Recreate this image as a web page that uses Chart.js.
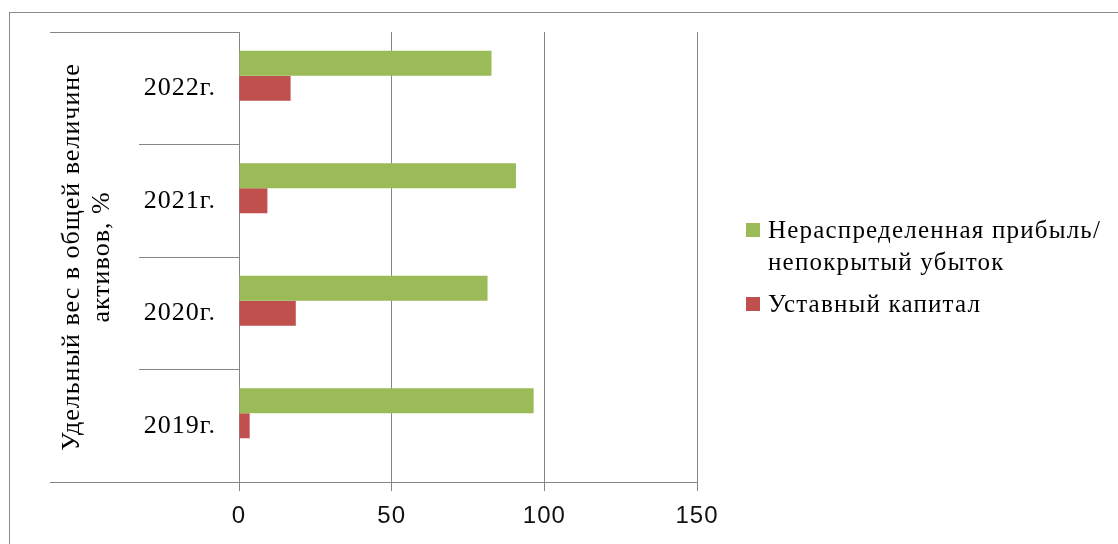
<!DOCTYPE html>
<html lang="ru">
<head>
<meta charset="utf-8">
<title>Удельный вес в общей величине активов</title>
<script src="https://cdn.jsdelivr.net/npm/chart.js@4/dist/chart.umd.min.js"></script>
<style>
  html, body { margin: 0; padding: 0; background: #fff; overflow: hidden; }
  #wrap { position: relative; width: 1118px; height: 544px; }
  #frame { position: absolute; left: 9px; top: 12px; width: 1200px; height: 600px;
           border: 1px solid #8a8a8a; box-sizing: border-box; }
  #chart { position: absolute; left: 0; top: 0; }
</style>
</head>
<body>
<div id="wrap">
  <div id="frame"></div>
  <canvas id="chart" width="1118" height="544"></canvas>
</div>
<script>
// Categories, top to bottom
const categories = ['2022г.', '2021г.', '2020г.', '2019г.'];

// Share of total assets, %
const retainedEarnings = [82.7, 90.7, 81.4, 96.5];
const charterCapital   = [16.9, 9.3, 18.6, 3.5];

// Value axis ticks
const xTicks = [0, 50, 100, 150];

// Series names (legend lines) and axis title lines
const retainedName = ['Нераспределенная прибыль/', 'непокрытый убыток'];
const capitalName  = ['Уставный капитал'];
const axisTitle    = ['Удельный вес в общей величине', 'активов, %'];

const GREEN = '#9BBB59';
const RED   = '#C0504D';
const GRID  = '#868686';
const SERIF = '"Liberation Serif", "Times New Roman", serif';
const SANS  = '"Liberation Sans", Arial, sans-serif';

// Letter spacing for the serif texts
const textSpacing = {
  id: 'textSpacing',
  beforeUpdate(chart) { chart.ctx.letterSpacing = '1px'; },
  beforeDraw(chart) { chart.ctx.letterSpacing = '1px'; }
};

// Outer lines that close the category label column
const categoryFrame = {
  id: 'categoryFrame',
  afterDraw(chart) {
    const { ctx, chartArea } = chart;
    ctx.save();
    ctx.strokeStyle = GRID;
    ctx.lineWidth = 1;
    ctx.beginPath();
    [chartArea.top, chartArea.bottom].forEach(y => {
      const py = Math.round(y) + 0.5;
      ctx.moveTo(50, py);
      ctx.lineTo(chartArea.left, py);
    });
    ctx.stroke();
    ctx.restore();
  }
};

// Legend at the right, with wrapped series names
const sideLegend = {
  id: 'sideLegend',
  afterDraw(chart) {
    const { ctx } = chart;
    const items = chart.data.datasets.filter(d => d.legendLines);
    const boxX = 746, textX = 768, lineStep = 32;
    let y = 230;
    ctx.save();
    ctx.font = '25px ' + SERIF;
    ctx.letterSpacing = '1.2px';
    ctx.textBaseline = 'middle';
    ctx.textAlign = 'left';
    items.forEach(ds => {
      ctx.fillStyle = ds.backgroundColor;
      ctx.fillRect(boxX, y - 7, 14, 14);
      ctx.fillStyle = '#000';
      ds.legendLines.forEach((line, i) => {
        ctx.fillText(line, textX, y + 1 + i * lineStep);
      });
      y += ds.legendLines.length * lineStep + 10;
    });
    ctx.restore();
  }
};

new Chart(document.getElementById('chart'), {
  type: 'bar',
  data: {
    labels: categories,
    datasets: [
      { label: retainedName.join(' '), legendLines: retainedName, data: retainedEarnings,
        backgroundColor: GREEN },
      { label: capitalName.join(' '), legendLines: capitalName, data: charterCapital,
        backgroundColor: RED },
      // reserved empty slot below the two series
      { label: '', data: categories.map(() => null), backgroundColor: 'rgba(0,0,0,0)' }
    ]
  },
  options: {
    indexAxis: 'y',
    responsive: false,
    animation: false,
    layout: { padding: { left: 0, top: 32, right: 421, bottom: 0 } },
    datasets: { bar: { categoryPercentage: 0.667, barPercentage: 1.0 } },
    plugins: {
      legend: { display: false },
      tooltip: { enabled: false }
    },
    scales: {
      x: {
        type: 'linear',
        min: 0,
        max: 150,
        afterBuildTicks: s => { s.ticks = xTicks.map(v => ({ value: v })); },
        afterFit: s => { s.height = 62; },
        grid: { color: GRID, lineWidth: 1, drawTicks: true, tickLength: 9 },
        border: { display: true, color: GRID, width: 1 },
        ticks: { color: '#111', padding: 11, font: { family: SANS, size: 24 } }
      },
      y: {
        type: 'category',
        offset: true,
        afterFit: s => { s.width = 239; },
        grid: { offset: true, drawOnChartArea: false, drawTicks: true, tickLength: 100,
                color: GRID, lineWidth: 1 },
        border: { display: true, color: GRID, width: 1 },
        ticks: { color: '#000', padding: -77, font: { family: SERIF, size: 26 } },
        title: {
          display: true,
          text: axisTitle,
          color: '#000',
          padding: { top: 57, bottom: 0 },
          font: { family: SERIF, size: 26, lineHeight: 1.15 }
        }
      }
    }
  },
  plugins: [textSpacing, categoryFrame, sideLegend]
});
</script>
</body>
</html>
